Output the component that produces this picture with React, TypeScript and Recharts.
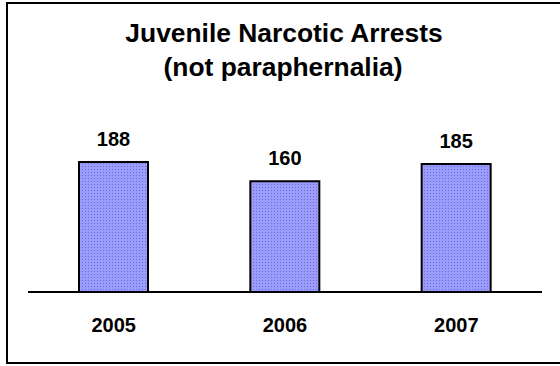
import { BarChart, Bar, XAxis, YAxis, LabelList, Customized } from "recharts";

const years = ["2005", "2006", "2007"];
const arrests = [188, 160, 185];
const titleLines = ["Juvenile Narcotic Arrests", "(not paraphernalia)"];

const data = years.map((year, i) => ({ year, arrests: arrests[i] }));

const FONT = "'Liberation Sans', Arial, sans-serif";

function Title() {
  return (
    <g>
      <text x={284} y={42} textAnchor="middle" fontFamily={FONT} fontWeight="bold" fontSize={26.4} fill="#000">
        {titleLines[0]}
      </text>
      <text x={283} y={76} textAnchor="middle" fontFamily={FONT} fontWeight="bold" fontSize={26.4} fill="#000">
        {titleLines[1]}
      </text>
    </g>
  );
}

export default function App() {
  return (
    <div style={{ position: "absolute", left: 0, top: 0, width: 560, height: 366, overflow: "hidden", background: "#fff" }}>
      <div
        style={{
          position: "absolute", left: 6, top: 2, width: 600, height: 362,
          border: "2px solid #000", boxSizing: "border-box",
        }}
      />
      <div style={{ position: "absolute", left: 0, top: 0 }}>
        <BarChart width={560} height={366} data={data} margin={{ top: 153.6, right: 18, bottom: 0, left: 28 }}>
          <defs>
            <pattern id="dotFill" width="3" height="3" patternUnits="userSpaceOnUse">
              <rect width="3" height="3" fill="#9c9cff" />
              <rect x="1" y="1" width="1" height="1" fill="#6c6cd4" />
            </pattern>
          </defs>
          <Customized component={Title} />
          <YAxis hide domain={[0, 200]} />
          <XAxis
            dataKey="year"
            height={74}
            axisLine={{ stroke: "#000", strokeWidth: 2 }}
            tickLine={false}
            tickSize={0}
            tickMargin={26}
            tick={{ fill: "#000", fontSize: 20, fontWeight: "bold", fontFamily: FONT }}
          />
          <Bar dataKey="arrests" barSize={69} fill="url(#dotFill)" stroke="#000" strokeWidth={2} isAnimationActive={false}>
            <LabelList
              dataKey="arrests"
              position="top"
              offset={16}
              fill="#000"
              fontSize={20}
              fontWeight="bold"
              fontFamily={FONT}
            />
          </Bar>
        </BarChart>
      </div>
    </div>
  );
}
